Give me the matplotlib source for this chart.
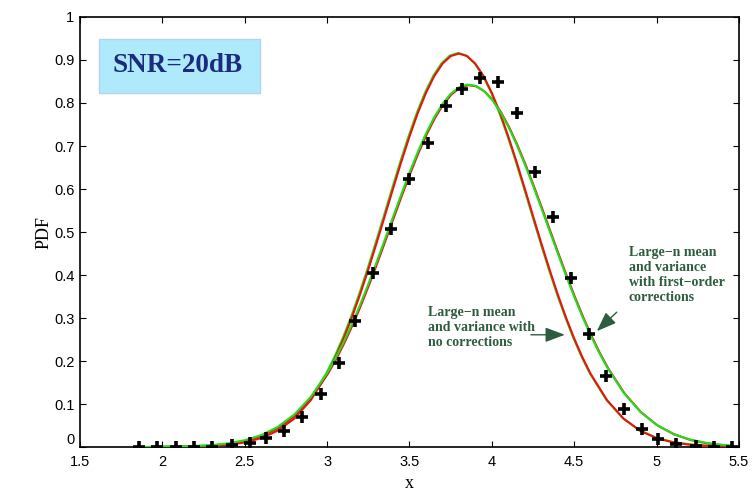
import matplotlib
matplotlib.use("Agg")
import matplotlib.pyplot as plt
import matplotlib.patheffects as pe
from matplotlib.patches import Rectangle

# simulated PDF samples (black crosses)
pts_x = [1.86, 1.97, 2.08, 2.19, 2.30, 2.42, 2.53, 2.63, 2.74, 2.85, 2.96, 3.07,
         3.17, 3.28, 3.39, 3.50, 3.61, 3.72, 3.82, 3.93, 4.04, 4.15, 4.26, 4.37,
         4.48, 4.59, 4.69, 4.80, 4.91, 5.01, 5.12, 5.24, 5.35, 5.46]
pts_y = [0.0, 0.0, 0.0, 0.0, 0.001, 0.004, 0.010, 0.020, 0.038, 0.070, 0.123, 0.195,
         0.293, 0.404, 0.506, 0.624, 0.708, 0.792, 0.833, 0.857, 0.848, 0.776, 0.639, 0.535,
         0.394, 0.262, 0.165, 0.089, 0.042, 0.019, 0.008, 0.002, 0.001, 0.0]

# large-n mean and variance, no corrections (red)
red_x = [1.94, 2.0, 2.1, 2.2, 2.3, 2.4, 2.5, 2.6, 2.7, 2.8, 2.9, 3.0, 3.05, 3.1, 3.15,
         3.2, 3.25, 3.3, 3.35, 3.4, 3.45, 3.5, 3.55, 3.6, 3.65, 3.7, 3.75, 3.8, 3.85,
         3.9, 3.95, 4.0, 4.05, 4.1, 4.15, 4.2, 4.25, 4.3, 4.35, 4.4, 4.45, 4.5, 4.55,
         4.6, 4.7, 4.8, 4.9, 5.0, 5.1, 5.2, 5.3, 5.4, 5.46]
red_y = [0.0001, 0.0002, 0.0005, 0.0011, 0.0025, 0.0053, 0.0107, 0.0207, 0.0379, 0.0658,
         0.1085, 0.1698, 0.2083, 0.2521, 0.3010, 0.3548, 0.4128, 0.4740, 0.5370, 0.6006,
         0.6631, 0.7219, 0.7763, 0.8235, 0.8624, 0.8912, 0.9090, 0.9150, 0.9090, 0.8912,
         0.8624, 0.8235, 0.7763, 0.7219, 0.6631, 0.6006, 0.5370, 0.4740, 0.4128, 0.3548,
         0.3010, 0.2521, 0.2083, 0.1698, 0.1085, 0.0658, 0.0379, 0.0207, 0.0107, 0.0053,
         0.0025, 0.0011, 0.0007]

# large-n mean and variance with first-order corrections (green)
grn_x = [1.87, 2.0, 2.1, 2.2, 2.3, 2.4, 2.5, 2.6, 2.7, 2.8, 2.9, 3.0, 3.05, 3.1, 3.15,
         3.2, 3.25, 3.3, 3.35, 3.4, 3.45, 3.5, 3.55, 3.6, 3.65, 3.7, 3.75, 3.8, 3.85,
         3.9, 3.95, 4.0, 4.05, 4.1, 4.15, 4.2, 4.25, 4.3, 4.35, 4.4, 4.45, 4.5, 4.55,
         4.6, 4.65, 4.7, 4.8, 4.9, 5.0, 5.1, 5.2, 5.3, 5.4, 5.46]
grn_y = [0.0002, 0.0005, 0.0011, 0.0023, 0.0045, 0.0086, 0.0158, 0.0277, 0.0467, 0.0753,
         0.1162, 0.1718, 0.2056, 0.2435, 0.2851, 0.3304, 0.3787, 0.4295, 0.4819, 0.5348,
         0.5872, 0.6380, 0.6856, 0.7289, 0.7667, 0.7978, 0.8213, 0.8365, 0.8428, 0.8401,
         0.8284, 0.8082, 0.7800, 0.7448, 0.7035, 0.6574, 0.6078, 0.5560, 0.5030, 0.4503,
         0.3987, 0.3493, 0.3028, 0.2596, 0.2203, 0.1849, 0.1261, 0.0824, 0.0515, 0.0309,
         0.0177, 0.0098, 0.0051, 0.0034]

x_ticks = [1.5, 2, 2.5, 3, 3.5, 4, 4.5, 5, 5.5]
x_labels = ["1.5", "2", "2.5", "3", "3.5", "4", "4.5", "5", "5.5"]
y_ticks = [0, 0.1, 0.2, 0.3, 0.4, 0.5, 0.6, 0.7, 0.8, 0.9, 1]
y_labels = ["0", "0.1", "0.2", "0.3", "0.4", "0.5", "0.6", "0.7", "0.8", "0.9", "1"]

RED = "#f01010"
GREEN = "#1ee01e"
NOTE = "#2d5c3f"

fig = plt.figure(figsize=(7.56, 4.94), dpi=100)
ax = fig.add_axes([0.1058, 0.0951, 0.8717, 0.8705])

ax.plot(red_x, red_y, color=RED, lw=1.5, zorder=3,
        path_effects=[pe.Stroke(offset=(-0.6, 0.4), linewidth=1.5, foreground=GREEN),
                      pe.Normal()])
ax.plot(grn_x, grn_y, color=GREEN, lw=1.5, zorder=3,
        path_effects=[pe.Stroke(offset=(0.6, -0.4), linewidth=1.5, foreground=RED),
                      pe.Normal()])
ax.plot(pts_x, pts_y, linestyle="none", marker="+", color="black",
        markersize=8, markeredgewidth=2.6, zorder=4)

ax.set_xlim(1.5, 5.5)
ax.set_ylim(0, 1)
ax.set_xticks(x_ticks)
ax.set_xticklabels(x_labels)
ax.set_yticks(y_ticks)
ax.set_yticklabels(y_labels)
ax.tick_params(direction="in", length=4, width=0.8, top=True, right=True,
               labelsize=10.5)
ax.tick_params(axis="x", pad=6)
ax.tick_params(axis="y", pad=4)
for lab in ax.get_xticklabels() + ax.get_yticklabels():
    lab.set_fontfamily("Liberation Sans")
ax.get_yticklabels()[0].set_va("bottom")
for s in ax.spines.values():
    s.set_linewidth(1.2)

ax.set_xlabel("x", fontfamily="Liberation Serif", fontsize=13, labelpad=4)
ax.set_ylabel("PDF", fontfamily="Liberation Serif", fontsize=13, labelpad=1)

# SNR box
ax.add_patch(Rectangle((1.615, 0.823), 0.978, 0.126, facecolor="#aeeafc",
                       edgecolor="#b4d2f2", lw=1, zorder=5))
ax.text(2.09, 0.887, "SNR=20dB", ha="center", va="center", fontsize=19.5,
        fontweight="bold", fontfamily="Liberation Serif", color="#1c2b7e", zorder=6)

# annotations
arrow = dict(arrowstyle="-|>,head_length=1.2,head_width=0.45", color=NOTE, lw=1.0)
ax.text(3.61, 0.328, "Large\u2212n mean\nand variance with\nno corrections",
        ha="left", va="top", fontsize=10, fontweight="bold",
        fontfamily="Liberation Serif", color=NOTE, linespacing=1.2)
ax.annotate("", xy=(4.46, 0.261), xytext=(4.22, 0.261), arrowprops=arrow)
ax.text(4.83, 0.468, "Large\u2212n mean\nand variance\nwith first\u2212order\ncorrections",
        ha="left", va="top", fontsize=10, fontweight="bold",
        fontfamily="Liberation Serif", color=NOTE, linespacing=1.2)
ax.annotate("", xy=(4.625, 0.265), xytext=(4.77, 0.318), arrowprops=arrow)

fig.savefig("out.png", dpi=100)
